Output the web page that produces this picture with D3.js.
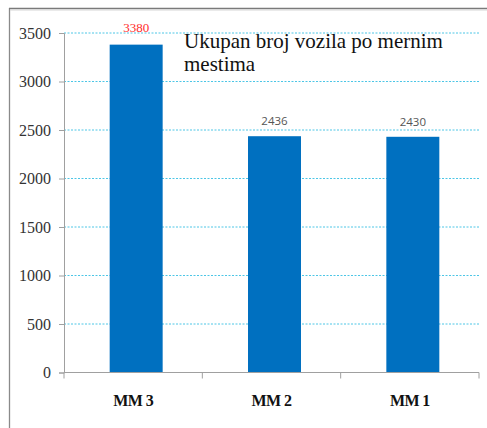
<!DOCTYPE html>
<html>
<head>
<meta charset="utf-8">
<script src="https://cdn.jsdelivr.net/npm/d3@7"></script>
<style>
  html, body { margin: 0; padding: 0; background: #fff; }
  svg { display: block; }
  .serif { font-family: "Liberation Serif", Tinos, "DejaVu Serif", serif; }
  .sans { font-family: "Open Sans", "DejaVu Sans", sans-serif; }
</style>
</head>
<body>
<svg id="chart" width="487" height="428"></svg>
<script>
// Measuring points and total vehicle counts
const categories = ["MM 3", "MM 2", "MM 1"];
const values = [3380, 2436, 2430];
const labelColors = ["#ff2a2a", "#555555", "#555555"];
const yTicks = [0, 500, 1000, 1500, 2000, 2500, 3000, 3500];
const titleLines = ["Ukupan broj vozila po mernim", "mestima"];

const svg = d3.select("#chart");
const W = 487, H = 428;
const plot = { left: 64, right: 479, top: 33, bottom: 372.5 };

// Frame (left and top edges)
svg.append("line").attr("x1", 9.5).attr("x2", 9.5).attr("y1", 8).attr("y2", H)
  .attr("stroke", "#8a8a8a").attr("stroke-width", 1.3);
svg.append("line").attr("x1", 9).attr("x2", W).attr("y1", 8.5).attr("y2", 8.5)
  .attr("stroke", "#7a7a7a").attr("stroke-width", 1.3);
svg.append("line").attr("x1", 10).attr("x2", W).attr("y1", 10).attr("y2", 10)
  .attr("stroke", "#d6d6d6").attr("stroke-width", 1);

const y = d3.scaleLinear().domain([0, 3500]).range([plot.bottom, plot.top]);
const x = d3.scaleBand().domain(categories).range([plot.left, plot.right])
  .paddingInner(0.617).paddingOuter(0.3085);
const xEdges = d3.scaleLinear().domain([0, 3]).range([plot.left, plot.right]);

// Dotted horizontal gridlines
svg.append("g")
  .selectAll("line")
  .data(yTicks.filter(d => d > 0))
  .join("line")
  .attr("x1", plot.left).attr("x2", plot.right)
  .attr("y1", d => y(d)).attr("y2", d => y(d))
  .attr("stroke", "#4cc6e6").attr("stroke-width", 1)
  .attr("stroke-dasharray", "2,1.5");

// Y axis
const yAxis = svg.append("g")
  .attr("transform", `translate(${plot.left},0)`)
  .call(d3.axisLeft(y).tickValues(yTicks).tickSize(5).tickPadding(8).tickFormat(d3.format("d")));
yAxis.attr("font-family", null).attr("font-size", null);
yAxis.select(".domain").attr("stroke", "#a0a0a0");
yAxis.selectAll(".tick line").attr("stroke", "#a0a0a0");
yAxis.selectAll(".tick text")
  .attr("class", "serif")
  .attr("fill", "#333")
  .style("font-size", "16px");

// Bars
svg.append("g")
  .attr("transform", "translate(3,0)")
  .selectAll("rect")
  .data(values)
  .join("rect")
  .attr("x", (d, i) => x(categories[i]))
  .attr("width", x.bandwidth())
  .attr("y", d => y(d))
  .attr("height", d => y(0) - y(d))
  .attr("fill", "#0070c0");

// X axis line with category boundary ticks
svg.append("line")
  .attr("x1", plot.left).attr("x2", plot.right)
  .attr("y1", plot.bottom).attr("y2", plot.bottom)
  .attr("stroke", "#a0a0a0");
svg.append("g")
  .selectAll("line")
  .data(d3.range(4))
  .join("line")
  .attr("x1", d => xEdges(d)).attr("x2", d => xEdges(d))
  .attr("y1", plot.bottom).attr("y2", plot.bottom + 6)
  .attr("stroke", "#a0a0a0");

// Category labels
svg.append("g")
  .selectAll("text")
  .data(categories)
  .join("text")
  .attr("class", "serif")
  .attr("x", d => x(d) + x.bandwidth() / 2)
  .attr("y", 406)
  .attr("text-anchor", "middle")
  .attr("fill", "#111")
  .style("font-weight", "bold")
  .style("font-size", "16px")
  .style("letter-spacing", "-0.6px")
  .text(d => d);

// Value labels above bars
svg.append("g")
  .attr("transform", "translate(3,0)")
  .selectAll("text")
  .data(values)
  .join("text")
  .attr("class", (d, i) => i === 0 ? "serif" : "sans")
  .attr("x", (d, i) => x(categories[i]) + x.bandwidth() / 2)
  .attr("y", (d, i) => y(d) - (i === 0 ? 13 : 11))
  .attr("text-anchor", "middle")
  .attr("fill", (d, i) => labelColors[i])
  .style("font-size", (d, i) => i === 0 ? "13px" : "11.5px")
  .text(d => d);

// Title
const title = svg.append("text")
  .attr("class", "serif")
  .attr("x", 184)
  .attr("y", 48)
  .attr("fill", "#111")
  .style("font-size", "21px");
title.selectAll("tspan")
  .data(titleLines)
  .join("tspan")
  .attr("x", 184)
  .attr("dy", (d, i) => i === 0 ? 0 : 22.5)
  .text(d => d);
</script>
</body>
</html>
